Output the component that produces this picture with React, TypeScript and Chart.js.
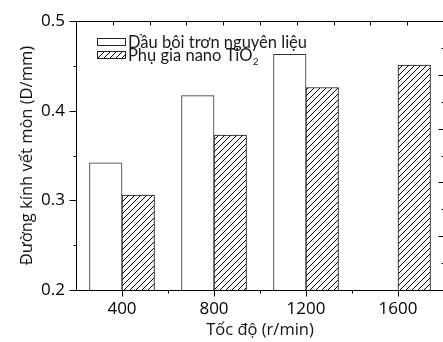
import React, { useEffect, useRef } from 'react';
import { Chart, registerables } from 'chart.js';

Chart.register(...registerables);

// ---- data ----
const CATEGORIES = [400, 800, 1200, 1600];
const BASE_OIL = [0.342, 0.417, 0.463, null];
const NANO_TIO2 = [0.306, 0.373, 0.426, 0.451];
const SERIES_LABELS = ['Dầu bôi trơn nguyên liệu', 'Phụ gia nano TiO₂'];
const X_TICKS = [400, 800, 1200, 1600];
const X_MINOR = [600, 1000, 1400];
const Y_TICKS = [0.2, 0.3, 0.4, 0.5];
const Y_MINOR = [0.25, 0.35, 0.45];
const TOP_TICKS = [1, 2, 3, 4, 5, 6, 7, 8, 9];
const RIGHT_TICKS = [1, 2, 3, 4, 5, 6, 7, 8, 9];
const X_TITLE = 'Tốc độ (r/min)';
const Y_TITLE = 'Đường kính vết mòn (D/mm)';

const SUBS: Record<string, string> = { '₀': '0', '₁': '1', '₂': '2', '₃': '3', '₄': '4' };

function makeHatch(): CanvasPattern | string {
  const c = document.createElement('canvas');
  c.width = 6;
  c.height = 6;
  const g = c.getContext('2d');
  if (!g) return '#fff';
  g.fillStyle = '#fff';
  g.fillRect(0, 0, 6, 6);
  g.strokeStyle = '#000';
  g.lineWidth = 1;
  g.beginPath();
  g.moveTo(0, 6);
  g.lineTo(6, 0);
  g.moveTo(-1, 1);
  g.lineTo(1, -1);
  g.moveTo(5, 7);
  g.lineTo(7, 5);
  g.stroke();
  const p = g.createPattern(c, 'repeat');
  return p || '#fff';
}

const frameTicksPlugin = {
  id: 'frameTicks',
  afterDraw(chart: any) {
    const { ctx, chartArea: a, scales } = chart;
    const r = (v: number) => Math.round(v) + 0.5;
    ctx.save();
    ctx.strokeStyle = '#000';
    ctx.lineWidth = 1;
    const xl = r(a.left), xr = r(a.right), yt = r(a.top), yb = r(a.bottom);
    ctx.strokeRect(xl, yt, xr - xl, yb - yt);
    const line = (x1: number, y1: number, x2: number, y2: number) => {
      ctx.beginPath();
      ctx.moveTo(x1, y1);
      ctx.lineTo(x2, y2);
      ctx.stroke();
    };
    X_TICKS.forEach((v) => { const x = r(scales.x.getPixelForValue(v)); line(x, yb, x, yb + 6); });
    X_MINOR.forEach((v) => { const x = r(scales.x.getPixelForValue(v)); line(x, yb, x, yb + 3); });
    Y_TICKS.forEach((v) => { const y = r(scales.y.getPixelForValue(v)); line(xl - 7, y, xl, y); });
    Y_MINOR.forEach((v) => { const y = r(scales.y.getPixelForValue(v)); line(xl - 3, y, xl, y); });
    TOP_TICKS.forEach((v) => { const x = r(scales.xTop.getPixelForValue(v)); line(x, yt, x, yt + 4); });
    RIGHT_TICKS.forEach((v) => {
      const y = r(scales.yRight.getPixelForValue(v));
      const len = v % 2 === 0 ? 6 : 3;
      line(xr - len, y, xr, y);
    });
    ctx.restore();
  },
};

const insetLegendPlugin = {
  id: 'insetLegend',
  afterDraw(chart: any) {
    const { ctx, chartArea: a } = chart;
    ctx.save();
    chart.data.datasets.forEach((ds: any, i: number) => {
      const bx = Math.round(a.left + 21);
      const by = Math.round(a.top + 17 + i * 12.5);
      ctx.fillStyle = ds.backgroundColor;
      ctx.fillRect(bx, by, 29, 8);
      ctx.strokeStyle = '#222';
      ctx.lineWidth = 1;
      ctx.strokeRect(bx + 0.5, by + 0.5, 28, 7);
      const label: string = ds.label;
      let main = '';
      let sub = '';
      for (const ch of label) {
        if (SUBS[ch]) sub += SUBS[ch];
        else main += ch;
      }
      const tx = bx + 31;
      const ty = by + 10;
      ctx.fillStyle = '#1a1a1a';
      ctx.textBaseline = 'alphabetic';
      ctx.textAlign = 'left';
      ctx.font = '16.5px Lato';
      ctx.fillText(main, tx, ty);
      if (sub) {
        const w = ctx.measureText(main).width;
        ctx.font = '10px Lato';
        ctx.fillText(sub, tx + w + 0.5, ty + 4);
      }
    });
    ctx.restore();
  },
};

export default function App() {
  const ref = useRef<HTMLCanvasElement | null>(null);

  useEffect(() => {
    if (!ref.current) return;
    const hatch = makeHatch();
    const chart = new Chart(ref.current, {
      type: 'bar',
      data: {
        datasets: [
          {
            label: SERIES_LABELS[0],
            data: CATEGORIES.map((x, i) => ({ x, y: BASE_OIL[i] })) as any,
            backgroundColor: '#ffffff',
            borderColor: '#333333',
            borderWidth: 1,
            barThickness: 32.5,
            xAxisID: 'x',
            yAxisID: 'y',
          },
          {
            label: SERIES_LABELS[1],
            data: CATEGORIES.map((x, i) => ({ x, y: NANO_TIO2[i] })) as any,
            backgroundColor: hatch as any,
            borderColor: '#111111',
            borderWidth: 1,
            barThickness: 32.5,
            xAxisID: 'x',
            yAxisID: 'y',
          },
        ],
      },
      options: {
        animation: false,
        responsive: false,
        maintainAspectRatio: false,
        layout: { padding: { left: 0, top: 20, right: 16, bottom: 0 } },
        plugins: { legend: { display: false }, tooltip: { enabled: false } },
        scales: {
          x: {
            type: 'linear',
            position: 'bottom',
            min: 200,
            max: 1800,
            offset: false,
            afterBuildTicks: (s: any) => { s.ticks = X_TICKS.map((v) => ({ value: v })); },
            afterFit: (s: any) => { s.height = 52; },
            grid: { display: false, drawTicks: false, offset: false },
            border: { display: false },
            ticks: {
              padding: 9,
              color: '#000',
              font: { family: 'Open Sans', size: 17 },
              callback: (v: any) => String(v),
            },
            title: {
              display: true,
              text: X_TITLE,
              color: '#111',
              font: { family: 'Open Sans', size: 16.5 },
              padding: { top: 0, bottom: 2 },
            },
          },
          y: {
            type: 'linear',
            position: 'left',
            min: 0.2,
            max: 0.5,
            afterBuildTicks: (s: any) => { s.ticks = Y_TICKS.map((v) => ({ value: v })); },
            afterFit: (s: any) => { s.width = 76; },
            grid: { display: false, drawTicks: false },
            border: { display: false },
            ticks: {
              padding: 11,
              color: '#000',
              font: { family: 'Open Sans', size: 17 },
              callback: (v: any) => Number(v).toFixed(1),
            },
            title: {
              display: true,
              text: Y_TITLE,
              color: '#111',
              font: { family: 'Open Sans', size: 16.5 },
              padding: { top: 17, bottom: 0 },
            },
          },
          xTop: { type: 'linear', position: 'top', min: 0, max: 10, display: false, offset: false },
          yRight: { type: 'linear', position: 'right', min: 0, max: 10, display: false },
        },
      } as any,
      plugins: [frameTicksPlugin, insetLegendPlugin],
    });
    return () => chart.destroy();
  }, []);

  return (
    <div style={{ position: 'fixed', left: 0, top: 0, width: 443, height: 342, overflow: 'hidden', background: '#fff' }}>
      <canvas ref={ref} width={460} height={342} style={{ display: 'block', width: 460, height: 342 }} />
    </div>
  );
}
